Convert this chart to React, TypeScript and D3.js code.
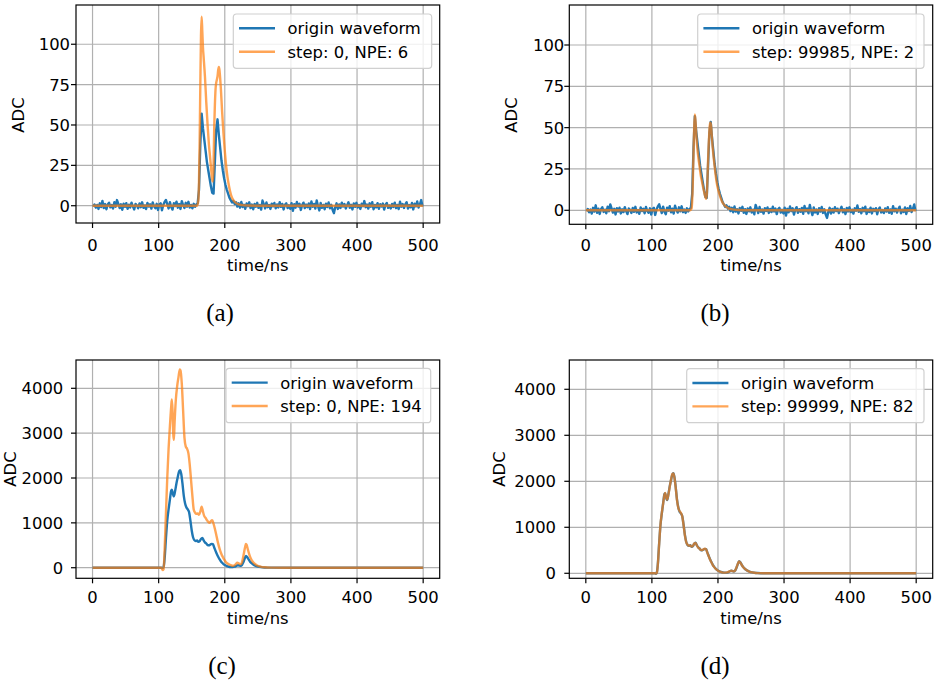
import React from 'react';
import * as d3 from 'd3';

// ---------- data ----------
const TIME_TICKS = [0, 100, 200, 300, 400, 500];
const ADC_TICKS_TOP = [0, 25, 50, 75, 100];
const ADC_TICKS_BOTTOM = [0, 1000, 2000, 3000, 4000];

// origin waveform of the top row, sampled at t = 1, 3, 5, ... 499 ns
const ORIGIN_TOP_START = 1;
const ORIGIN_TOP_STEP = 2;
const ORIGIN_TOP = [
  -0.5, 0.8, -1.2, 0.5, -2, 1.5, -0.8, 3, -1.5, 1,
  -2.2, 0.7, 1.8, -1, 0.4, -1.8, 2.2, -0.6, 3.5, 1.2,
  -1.4, 0.9, -2.5, 1.3, -0.7, 1.6, -1.9, 0.6, -1.1, 1.9,
  -0.4, -2.3, 1.1, 0.3, -1.6, 1.4, -0.9, 2.1, -1.3, 0.2,
  -2.1, 1.7, -0.5, 0.9, -1.8, 2, -0.3, -1.5, 1.2, -2.6,
  0.8, 1.5, -2.8, 0.4, 2.4, 3.6, 0.9, -1.7, 2.2, -0.8,
  -2.4, 1.6, -0.2, 2.5, -1.2, 1, -2, 2.8, 0.3, -1.4,
  1.8, -0.6, 2.4, -1.1, 0.5, -1.6, 1.2, -0.7, 0.8, 1.5,
  10, 38, 57, 48, 41, 34, 27, 22, 17, 12,
  8, 7.5, 27, 47, 53.5, 44, 36, 28, 22, 17,
  13, 10, 7.5, 5, 3.5, 2, 3, 1, 2.2, -0.5,
  1.5, -1.2, 2.3, -0.8, 0.6, -1.9, 1.4, -0.3, 2.1, -1.5,
  0.7, -2.2, 1.1, -0.6, 1.8, -1.3, 0.4, -2.4, 3.2, 1,
  -1.7, 2, -0.9, 0.5, -2, 1.3, -0.4, 1.7, -1.6, 0.8,
  -1.1, 2.2, -0.7, 1.1, -2.3, 0.6, 1.5, -1.4, 0.3, -1.9,
  1.6, -3.2, 0.9, -1.2, 2.3, -0.5, 1.2, -2.6, 0.4, 1.9,
  -1.5, 0.7, -0.9, 1.4, -2.1, 2.6, -0.6, 1.1, -1.8, 3.3,
  -0.4, -2.9, 1.7, -1.3, 0.5, -2.2, 1.3, -0.8, 2, -1.6,
  0.6, -2.5, -4.6, -1, 1.5, -2, 0.8, -1.4, 1.9, -0.5,
  1, -1.7, 0.3, 2.1, -1.2, 0.6, -2.3, 1.4, -0.7, 1.8,
  -1.1, 0.4, -2, 1.2, -0.3, 2.9, -0.9, 0.7, -1.8, 1.5,
  -0.6, 2.2, -2.2, 0.5, -1, 1.6, -1.9, 0.9, -0.4, 1.3,
  -2.4, 0.6, 1.7, -1.3, 0.2, -1.7, 1.1, -0.8, 1.9, -1.5,
  0.5, -2.1, 2.5, -0.6, 1, -1.4, 0.8, 2.2, -1.8, 0.4,
  -1, 1.7, -2.3, 1.2, -0.4, 2.6, -1.1, 0.7, 3.5, -0.5,
];

// fit (a), step 0
const FIT_A_T = [0, 158, 160, 161, 162, 163, 164, 165, 166, 167,
  168, 170, 172, 174, 176, 178, 180, 181, 182, 183,
  184, 185, 186, 187, 188, 189, 190, 191, 192, 193,
  194, 196, 198, 200, 202, 204, 206, 208, 210, 213,
  216, 220, 226, 235, 250, 500];
const FIT_A_V = [0, 0, 3, 15, 40, 75, 105, 117, 108, 98,
  92, 80, 64, 50, 38, 29, 20, 16, 15, 25,
  48, 62, 72, 76, 78, 80, 84, 86, 84, 79,
  73, 58, 45, 34, 25, 18, 13, 9, 6, 3.5,
  2, 1, 0.4, 0.1, 0, 0];

// fit (b), step 99985
const FIT_B_T = [0, 158, 160, 161, 162, 163, 164, 165, 166, 167,
  168, 170, 172, 174, 176, 178, 180, 182, 183, 184,
  185, 186, 187, 188, 189, 190, 191, 192, 194, 196,
  198, 200, 202, 204, 206, 208, 210, 213, 216, 220,
  230, 250, 500];
const FIT_B_V = [0, 0, 1, 6, 18, 35, 50, 58, 54, 47,
  41, 33, 27, 21, 17, 13, 9.5, 7, 9, 18,
  30, 40, 48, 53, 53, 49, 43, 38, 30, 23,
  17, 13, 10, 7.5, 5.5, 4, 3, 2, 1.2, 0.7,
  0.2, 0, 0];

// origin waveform of the bottom row
const ORIGIN_BOTTOM_T = [0, 104, 106, 107.5, 109, 111, 113, 115, 117, 119,
  120, 121, 123, 125, 127, 129, 131, 132.5, 134, 136,
  138, 140, 142, 144, 146, 148, 150, 152, 154, 156,
  158, 160, 162, 164, 166, 168, 170, 172, 174, 176,
  178, 180, 182, 184, 186, 188, 190, 192, 194, 196,
  198, 200, 203, 206, 209, 212, 215, 218, 220, 222,
  224, 226, 228, 230, 232, 234, 236, 238, 240, 243,
  246, 250, 255, 260, 270, 300, 400, 500];
const ORIGIN_BOTTOM_V = [0, 0, -10, 20, 200, 650, 1050, 1300, 1520, 1720,
  1740, 1680, 1590, 1720, 1890, 2030, 2150, 2175, 2100, 1880,
  1600, 1430, 1340, 1300, 1240, 1050, 830, 680, 615, 595,
  610, 575, 590, 640, 665, 610, 565, 540, 505, 500,
  515, 530, 525, 450, 375, 305, 245, 190, 145, 110,
  80, 58, 35, 22, 15, 14, 22, 45, 58, 48,
  40, 60, 120, 200, 262, 235, 185, 140, 108, 72,
  46, 26, 12, 5, 1, 0, 0, 0];

// fit (c), step 0
const FIT_C_T = [0, 104, 106, 107.5, 109, 111, 113, 115, 117, 119,
  120, 121, 122, 123, 124, 126, 128, 130, 132, 133,
  135, 137, 139, 141, 143, 145, 147, 149, 151, 153,
  155, 157, 159, 161, 163, 165, 167, 169, 171, 173,
  175, 177, 179, 181, 183, 185, 187, 189, 191, 193,
  195, 197, 199, 201, 204, 207, 210, 213, 216, 219,
  221, 223, 225, 227, 229, 231, 232, 233, 235, 237,
  239, 242, 245, 249, 254, 260, 270, 290, 400, 500];
const FIT_C_V = [0, 0, -50, -30, 400, 1200, 2000, 2650, 3150, 3600,
  3750, 3500, 3000, 2850, 3200, 3750, 4050, 4250, 4420, 4400,
  4100, 3500, 2900, 2700, 2650, 2550, 2300, 1950, 1600, 1300,
  1230, 1200, 1210, 1180, 1250, 1360, 1250, 1150, 1110, 1060,
  1020, 1000, 1040, 1060, 980, 870, 740, 600, 480, 380,
  300, 240, 185, 140, 95, 70, 50, 45, 70, 110,
  100, 80, 90, 180, 330, 480, 530, 510, 400, 300,
  220, 140, 90, 50, 25, 10, 3, 0, 0, 0];

// fit (d), step 99999 (same times as the bottom origin waveform)
const FIT_D_V = [0, 0, -5, 15, 190, 640, 1060, 1310, 1510, 1710,
  1745, 1690, 1600, 1710, 1880, 2040, 2160, 2170, 2090, 1870,
  1590, 1420, 1350, 1310, 1235, 1040, 820, 675, 620, 600,
  605, 580, 595, 645, 660, 605, 560, 535, 510, 505,
  520, 535, 520, 445, 370, 300, 240, 185, 140, 105,
  78, 56, 34, 21, 14, 15, 24, 47, 56, 46,
  42, 62, 125, 205, 258, 230, 180, 138, 105, 70,
  44, 25, 11, 4, 1, 0, 0, 0];

const LEGEND_A = ['origin waveform', 'step: 0, NPE: 6'];
const LEGEND_B = ['origin waveform', 'step: 99985, NPE: 2'];
const LEGEND_C = ['origin waveform', 'step: 0, NPE: 194'];
const LEGEND_D = ['origin waveform', 'step: 99999, NPE: 82'];

// ---------- styling ----------
const BLUE = '#1f77b4';
const ORANGE = '#ff7f0e';
const FONT = 'DejaVu Sans, sans-serif';
const FS = 16.4;
const LW = 2.4;

type Pt = [number, number];
const zip = (t: number[], v: number[]): Pt[] => v.map((y, i) => [t[i], y] as Pt);
const originTop: Pt[] = ORIGIN_TOP.map((v, i) => [ORIGIN_TOP_START + i * ORIGIN_TOP_STEP, v] as Pt);

interface PanelCfg {
  left: number; top: number; width: number; height: number;
  yDomain: [number, number]; yTicks: number[];
  yLabelRight: number; xTickBase: number; xLabelBase: number;
  yLabelX: number; yLabelY: number;
  legend: { x: number; y: number; w: number; h: number };
  legendTexts: string[];
  origin: Pt[]; fit: Pt[]; smoothOrigin: boolean;
  tag: string; tagX: number; tagY: number;
}

function Panel({ c }: { c: PanelCfg }) {
  const x = d3.scaleLinear().domain([-25, 525]).range([c.left, c.left + c.width]);
  const y = d3.scaleLinear().domain(c.yDomain).range([c.top + c.height, c.top]);
  const lineLin = d3.line<Pt>().x(d => x(d[0])).y(d => y(d[1]));
  const lineSmooth = d3.line<Pt>().x(d => x(d[0])).y(d => y(d[1])).curve(d3.curveMonotoneX);
  const bottom = c.top + c.height;
  const L = c.legend;
  const hx0 = L.x + 5.7, hx1 = hx0 + 36, tx = hx1 + 12.5;
  const rows = [L.y + 14.3, L.y + 37.7];
  return (
    <g>
      {TIME_TICKS.map(t => (
        <line key={'gx' + t} x1={x(t)} x2={x(t)} y1={c.top} y2={bottom} stroke="#b0b0b0" strokeWidth={1.2} />
      ))}
      {c.yTicks.map(t => (
        <line key={'gy' + t} x1={c.left} x2={c.left + c.width} y1={y(t)} y2={y(t)} stroke="#b0b0b0" strokeWidth={1.2} />
      ))}
      <path d={(c.smoothOrigin ? lineSmooth : lineLin)(c.origin) || ''} fill="none" stroke={BLUE} strokeWidth={LW} strokeLinejoin="round" />
      <path d={lineSmooth(c.fit) || ''} fill="none" stroke={ORANGE} strokeOpacity={0.7} strokeWidth={LW} strokeLinejoin="round" />
      <rect x={c.left} y={c.top} width={c.width} height={c.height} fill="none" stroke="#000" strokeWidth={1.2} />
      {TIME_TICKS.map(t => (
        <g key={'tx' + t}>
          <line x1={x(t)} x2={x(t)} y1={bottom} y2={bottom + 5} stroke="#000" strokeWidth={1.2} />
          <text x={x(t)} y={c.xTickBase} textAnchor="middle" fontFamily={FONT} fontSize={FS} fill="#000">{t}</text>
        </g>
      ))}
      {c.yTicks.map(t => (
        <g key={'ty' + t}>
          <line x1={c.left - 5} x2={c.left} y1={y(t)} y2={y(t)} stroke="#000" strokeWidth={1.2} />
          <text x={c.yLabelRight} y={y(t) + 6} textAnchor="end" fontFamily={FONT} fontSize={FS} fill="#000">{t}</text>
        </g>
      ))}
      <text x={c.left + c.width / 2} y={c.xLabelBase} textAnchor="middle" fontFamily={FONT} fontSize={FS} fill="#000">time/ns</text>
      <text transform={`translate(${c.yLabelX},${c.yLabelY}) rotate(-90)`} textAnchor="middle" fontFamily={FONT} fontSize={FS} fill="#000">ADC</text>
      <rect x={L.x} y={L.y} width={L.w} height={L.h} rx={3.3} fill="#fff" fillOpacity={0.8} stroke="#d0d0d0" strokeWidth={1.2} />
      <line x1={hx0} x2={hx1} y1={rows[0]} y2={rows[0]} stroke={BLUE} strokeWidth={LW} />
      <line x1={hx0} x2={hx1} y1={rows[1]} y2={rows[1]} stroke={ORANGE} strokeOpacity={0.7} strokeWidth={LW} />
      {c.legendTexts.map((s, i) => (
        <text key={s} x={tx} y={rows[i] + 6} fontFamily={FONT} fontSize={FS} fill="#000">{s}</text>
      ))}
      <text x={c.tagX} y={c.tagY} textAnchor="middle" fontFamily="Liberation Serif, serif" fontSize={25} fill="#000">{c.tag}</text>
    </g>
  );
}

export default function App() {
  const panels: PanelCfg[] = [
    {
      left: 76, top: 5, width: 363.7, height: 218, yDomain: [-10.7, 124.3], yTicks: ADC_TICKS_TOP,
      yLabelRight: 70, xTickBase: 251, xLabelBase: 271, yLabelX: 24, yLabelY: 115,
      legend: { x: 233.3, y: 14, w: 198.4, h: 54.3 }, legendTexts: LEGEND_A,
      origin: originTop, fit: zip(FIT_A_T, FIT_A_V), smoothOrigin: false,
      tag: '(a)', tagX: 220, tagY: 320.5,
    },
    {
      left: 569.3, top: 5, width: 363.4, height: 219.3, yDomain: [-8.47, 124.2], yTicks: ADC_TICKS_TOP,
      yLabelRight: 564.3, xTickBase: 251, xLabelBase: 271, yLabelX: 516.7, yLabelY: 115,
      legend: { x: 697.7, y: 14, w: 226.3, h: 54.3 }, legendTexts: LEGEND_B,
      origin: originTop, fit: zip(FIT_B_T, FIT_B_V), smoothOrigin: false,
      tag: '(b)', tagX: 715, tagY: 320.5,
    },
    {
      left: 76, top: 360, width: 363.7, height: 218.3, yDomain: [-236, 4631], yTicks: ADC_TICKS_BOTTOM,
      yLabelRight: 63.3, xTickBase: 603.3, xLabelBase: 624, yLabelX: 16, yLabelY: 469,
      legend: { x: 226, y: 368.3, w: 204.7, h: 54.4 }, legendTexts: LEGEND_C,
      origin: zip(ORIGIN_BOTTOM_T, ORIGIN_BOTTOM_V), fit: zip(FIT_C_T, FIT_C_V), smoothOrigin: true,
      tag: '(c)', tagX: 222, tagY: 673.5,
    },
    {
      left: 569.3, top: 360, width: 363.4, height: 218.3, yDomain: [-109, 4637], yTicks: ADC_TICKS_BOTTOM,
      yLabelRight: 556, xTickBase: 603.3, xLabelBase: 624, yLabelX: 505, yLabelY: 469,
      legend: { x: 686.7, y: 368.7, w: 237.3, h: 54 }, legendTexts: LEGEND_D,
      origin: zip(ORIGIN_BOTTOM_T, ORIGIN_BOTTOM_V), fit: zip(ORIGIN_BOTTOM_T, FIT_D_V), smoothOrigin: true,
      tag: '(d)', tagX: 715, tagY: 673.5,
    },
  ];
  return (
    <svg width={936} height={686} style={{ position: 'absolute', left: 0, top: 0, background: '#fff' }}>
      <rect width={936} height={686} fill="#fff" />
      {panels.map((p, i) => <Panel key={i} c={p} />)}
    </svg>
  );
}
